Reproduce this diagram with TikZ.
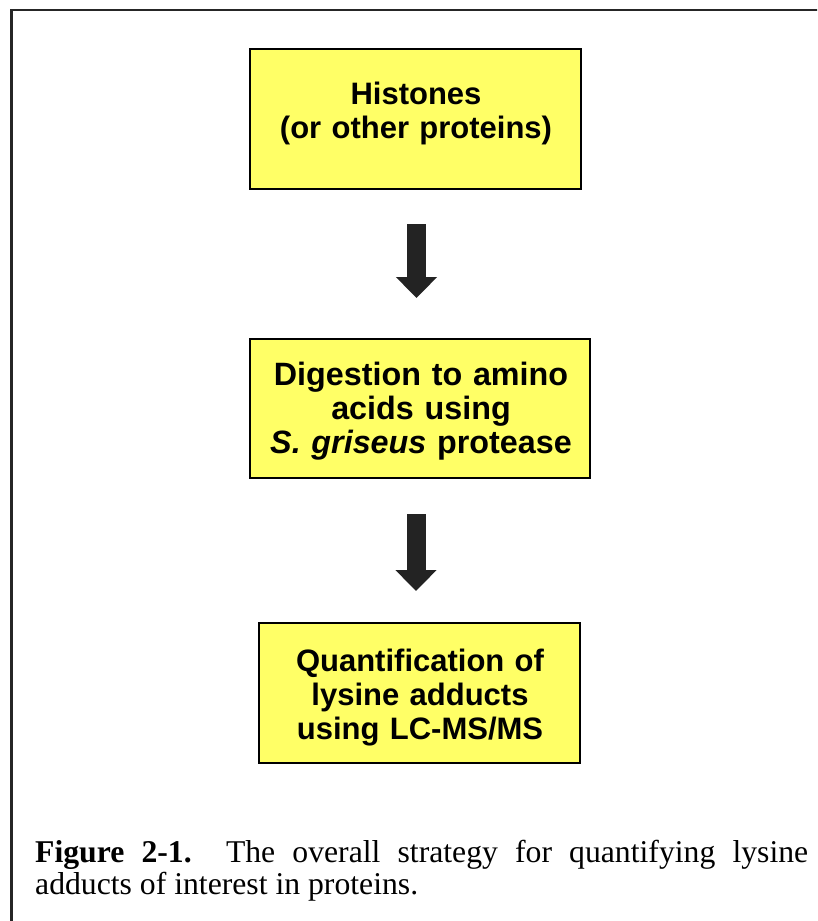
\documentclass[tikz,border=0pt]{standalone}
\usepackage{fontspec}
\setmainfont{Liberation Serif}
\newfontfamily\boxfont{Liberation Sans}
\usetikzlibrary{arrows.meta}
\definecolor{boxyellow}{RGB}{255,255,102}
\definecolor{arrowgray}{RGB}{35,35,35}
\begin{document}
\begin{tikzpicture}[x=1pt,y=-1pt,
  stepbox/.style={draw=black, line width=2pt, fill=boxyellow, inner sep=0pt},
  steptext/.style={anchor=base, align=center, inner sep=0pt,
    font=\boxfont\bfseries\fontsize{31}{34}\selectfont},
  bigtext/.style={steptext, font=\boxfont\bfseries\fontsize{32.3}{34.2}\selectfont},
  bigarrow/.style={draw=arrowgray, line width=19pt, -{Triangle[width=40pt,length=21pt]}},
  frameline/.style={draw=black!85, line width=2.5pt}]
\useasboundingbox (0,0) rectangle (817,921);
\clip (0,0) rectangle (817,921);
\fill[white] (0,0) rectangle (817,921);
\draw[frameline] (11.5,940) -- (11.5,10) -- (840,10);

\node[stepbox, minimum width=331pt, minimum height=140pt] (b1) at (415.5,119) {};
\node[stepbox, minimum width=340pt, minimum height=139pt] (b2) at (420,408.5) {};
\node[stepbox, minimum width=321pt, minimum height=140pt] (b3) at (419.5,693) {};

\node[steptext, text width=331pt] (t1) at (416,104) {Histones\\(or other proteins)};
\node[bigtext, text width=340pt] (t2) at (421,385) {Digestion to amino\\acids using\\\textit{S. griseus} protease};
\node[steptext, text width=321pt] (t3) at (420,671.7) {Quantification of\\lysine adducts\\using LC-MS/MS};

\coordinate (ax1) at (416.5,0);
\coordinate (ax2) at (416,0);
\draw[bigarrow, shorten <=34pt, shorten >=40pt] (b1.south -| ax1) -- (b2.north -| ax1);
\draw[bigarrow, shorten <=35pt, shorten >=31pt] (b2.south -| ax2) -- (b3.north -| ax2);

\node[anchor=base west, text width=773pt, align=justify, inner sep=0pt,
  font=\fontsize{31.7}{31.7}\selectfont] (cap) at (35,862.5)
  {\hyphenpenalty=10000 \tolerance=10000 \textbf{Figure 2-1.}~~The overall strategy for quantifying lysine\linebreak adducts of interest in proteins.};
\end{tikzpicture}
\end{document}
